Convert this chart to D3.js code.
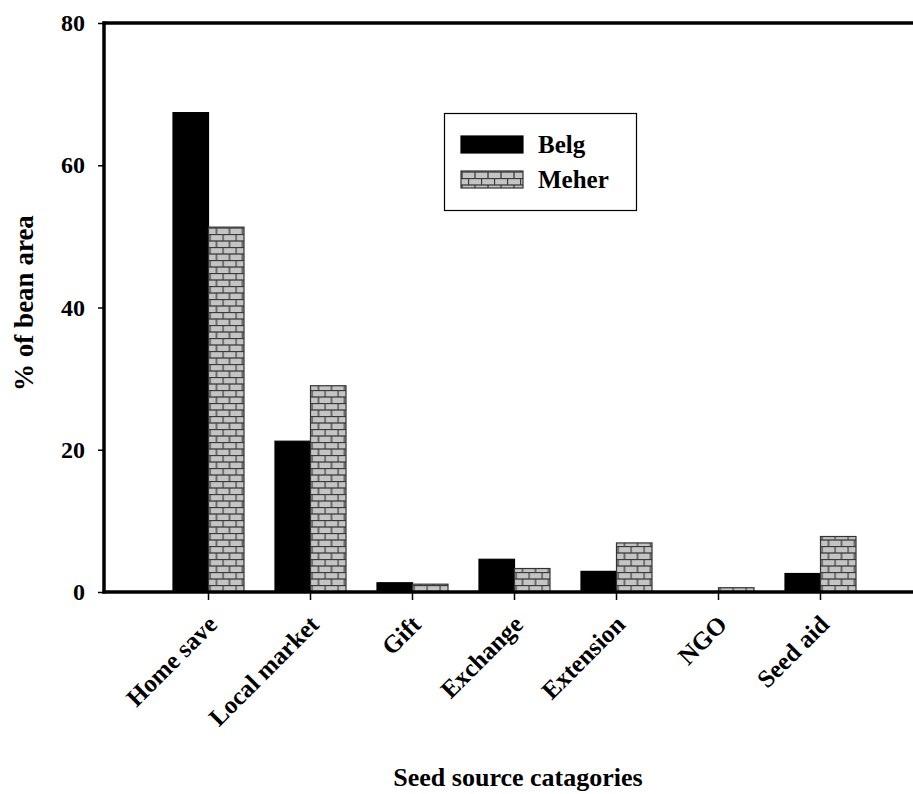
<!DOCTYPE html>
<html>
<head>
<meta charset="utf-8">
<script src="https://cdn.jsdelivr.net/npm/d3@7"></script>
<style>
  html, body { margin: 0; padding: 0; background: #fff; }
  svg { display: block; }
  text { font-family: "Liberation Serif", "Times New Roman", serif; font-weight: bold; fill: #000; }
</style>
</head>
<body>
<svg id="chart" width="913" height="794"></svg>
<script>
const categories = ["Home save", "Local market", "Gift", "Exchange", "Extension", "NGO", "Seed aid"];
const seriesNames = ["Belg", "Meher"];
const belgValues = [67.4, 21.2, 1.3, 4.6, 2.9, 0, 2.6];
const meherValues = [51.3, 29.0, 1.1, 3.3, 6.9, 0.6, 7.8];
const yTicks = [0, 20, 40, 60, 80];
const xTitle = "Seed source catagories";
const yTitle = "% of bean area";

const svg = d3.select("#chart");

// pattern
const defs = svg.append("defs");
const pat = defs.append("pattern")
  .attr("id", "brick").attr("patternUnits", "userSpaceOnUse")
  .attr("width", 13).attr("height", 13);
pat.append("rect").attr("width", 13).attr("height", 13).attr("fill", "#c4c4c4");
const mortar = "#3a3a3a";
pat.append("line").attr("x1", 0).attr("x2", 13).attr("y1", 0.5).attr("y2", 0.5).attr("stroke", mortar).attr("stroke-width", 1.3);
pat.append("line").attr("x1", 0).attr("x2", 13).attr("y1", 7).attr("y2", 7).attr("stroke", mortar).attr("stroke-width", 1.3);
pat.append("line").attr("x1", 0.5).attr("x2", 0.5).attr("y1", 0).attr("y2", 7).attr("stroke", mortar).attr("stroke-width", 1.3);
pat.append("line").attr("x1", 7).attr("x2", 7).attr("y1", 7).attr("y2", 13).attr("stroke", mortar).attr("stroke-width", 1.3);

const plotLeft = 104, plotRight = 913 + 5, plotTop = 23, plotBottom = 592;

const y = d3.scaleLinear().domain([0, 80]).range([plotBottom, plotTop]);
const x0 = d3.scaleBand().domain(categories).range([157.5, 871.5]).padding(0);
const x1 = d3.scaleBand().domain(seriesNames).range([15.5, 86.5]).padding(0);

const data = categories.map((c, i) => ({ cat: c, vals: [
  { s: "Belg", v: belgValues[i] }, { s: "Meher", v: meherValues[i] }
]}));

const groups = svg.append("g").selectAll("g").data(data).join("g")
  .attr("transform", d => `translate(${x0(d.cat)},0)`);

groups.selectAll("rect").data(d => d.vals).join("rect")
  .attr("x", d => x1(d.s))
  .attr("y", d => y(d.v))
  .attr("width", x1.bandwidth())
  .attr("height", d => y(0) - y(d.v))
  .attr("fill", d => d.s === "Belg" ? "#000" : "url(#brick)")
  .attr("stroke", d => d.s === "Belg" ? "#000" : "#333")
  .attr("stroke-width", 1.2);

// Y axis
const yAxis = d3.axisLeft(y).tickValues(yTicks).tickSize(6).tickPadding(13);
const gy = svg.append("g").attr("transform", `translate(${plotLeft},0)`).call(yAxis);
gy.select(".domain").remove();
gy.selectAll(".tick line").attr("stroke", "#000").attr("stroke-width", 1.5);
gy.selectAll(".tick text").style("font-size", "24px").style("font-family", "Liberation Serif").style("font-weight", "bold");

// X axis
const xAxis = d3.axisBottom(x0).tickSize(8).tickPadding(6);
const gx = svg.append("g").attr("transform", `translate(0,${plotBottom})`).call(xAxis);
gx.select(".domain").remove();
gx.selectAll(".tick line").attr("stroke", "#000").attr("stroke-width", 1.5);
gx.selectAll(".tick text")
  .style("font-size", "25px").style("font-family", "Liberation Serif").style("font-weight", "bold")
  .attr("text-anchor", "end")
  .attr("transform", "translate(10,34) rotate(-45)")
  .attr("x", 0).attr("y", 0).attr("dy", "0");

// frame lines
svg.append("line").attr("x1", plotLeft).attr("x2", plotLeft).attr("y1", plotTop - 1.5).attr("y2", plotBottom + 1.5)
  .attr("stroke", "#000").attr("stroke-width", 3.5);
svg.append("line").attr("x1", plotLeft - 1.5).attr("x2", plotRight).attr("y1", plotTop).attr("y2", plotTop)
  .attr("stroke", "#000").attr("stroke-width", 3.5);
svg.append("line").attr("x1", plotLeft - 1.5).attr("x2", plotRight).attr("y1", plotBottom).attr("y2", plotBottom)
  .attr("stroke", "#000").attr("stroke-width", 3.5);

// titles
svg.append("text").attr("x", 518).attr("y", 786).attr("text-anchor", "middle")
  .style("font-size", "26px").text(xTitle);
svg.append("text").attr("transform", "translate(33,303) rotate(-90)").attr("text-anchor", "middle")
  .style("font-size", "27px").text(yTitle);

// legend
const lg = svg.append("g");
lg.append("rect").attr("x", 444.5).attr("y", 113.5).attr("width", 192).attr("height", 97)
  .attr("fill", "#fff").attr("stroke", "#000").attr("stroke-width", 1.2);
const items = lg.selectAll("g.item").data(seriesNames).join("g").attr("class", "item")
  .attr("transform", (d, i) => `translate(0,${i * 35})`);
items.append("rect").attr("x", 461).attr("y", 136).attr("width", 62).attr("height", 17)
  .attr("fill", d => d === "Belg" ? "#000" : "url(#brick)")
  .attr("stroke", d => d === "Belg" ? "#000" : "#333").attr("stroke-width", 1.2);
items.append("text").attr("x", 538).attr("y", 153).style("font-size", "25px").text(d => d);
</script>
</body>
</html>
